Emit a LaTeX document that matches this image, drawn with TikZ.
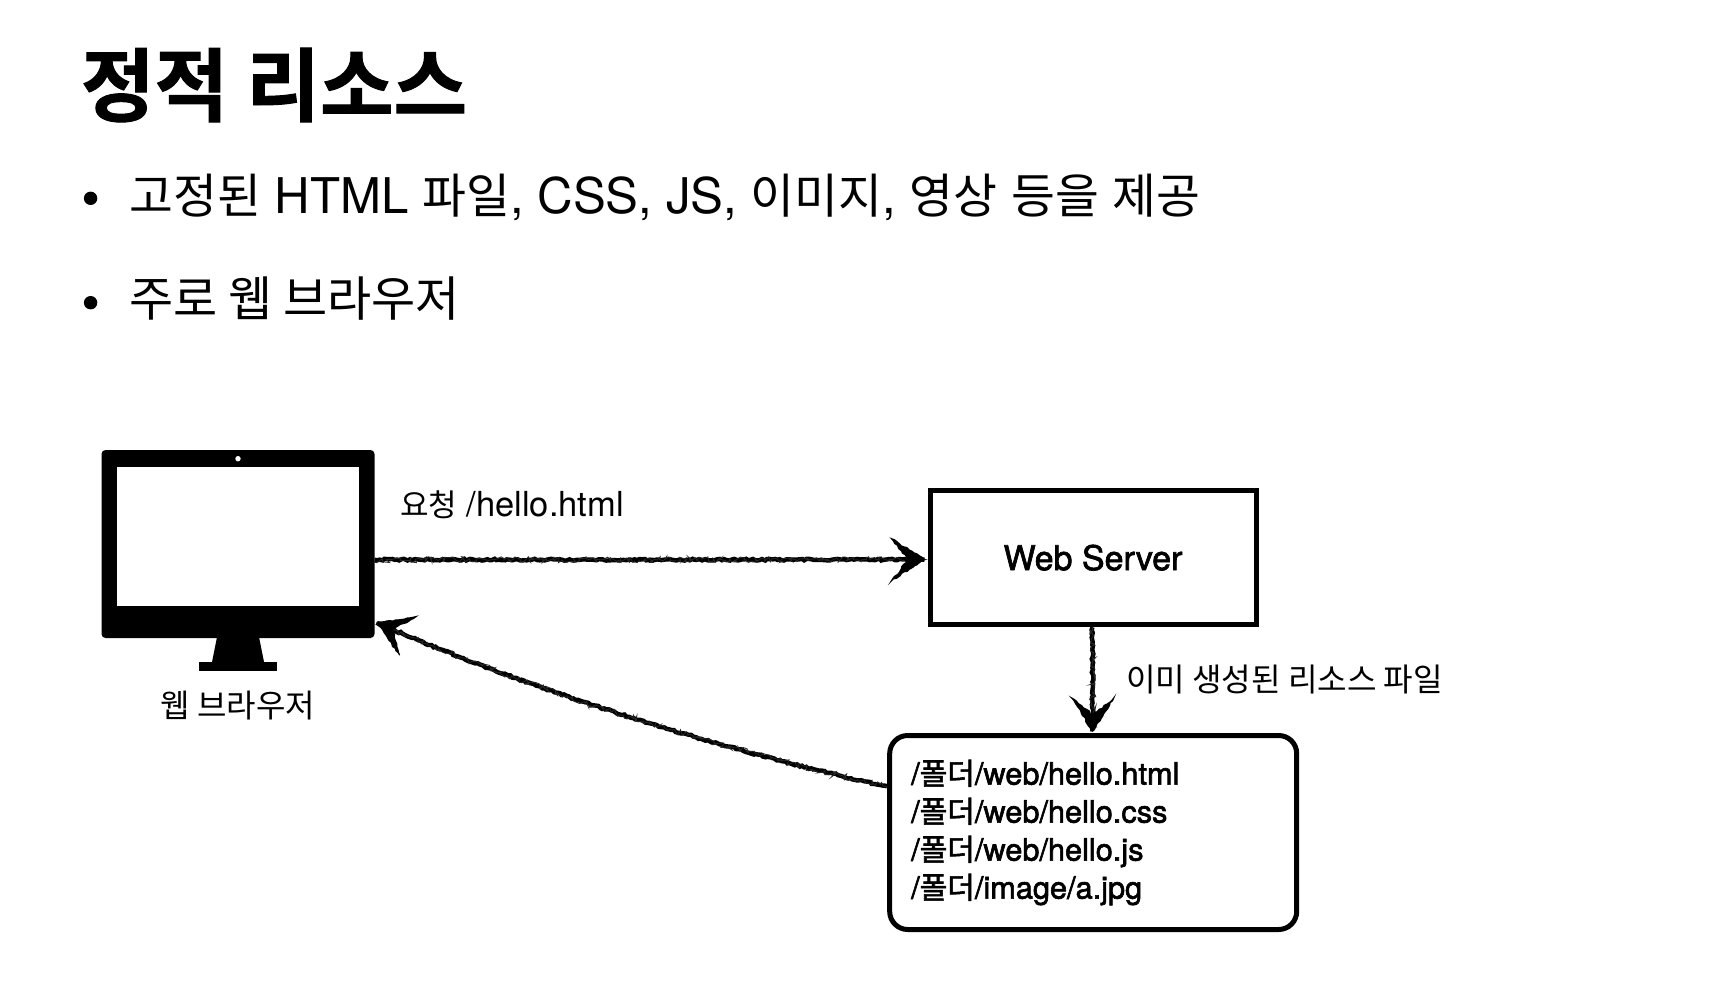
\documentclass[tikz,border=0pt]{standalone}
\usepackage{fontspec}
\usetikzlibrary{decorations.pathmorphing,calc}
\setmainfont{TeX Gyre Heros}
\newfontfamily\krfont{Noto Sans CJK KR}
\newfontfamily\krmed[FakeBold=2]{Noto Sans CJK KR}
\newfontfamily\krbold[BoldFont={*},FakeBold=1.2]{Noto Sans CJK KR Bold}
\newfontfamily\latmed[FakeBold=2]{TeX Gyre Heros}
\newcommand{\fs}[1]{\fontsize{#1}{#1}\selectfont}
\newcommand{\kr}[2]{{\krfont\fontsize{#1}{#1}\selectfont #2}}
\newcommand{\krm}[2]{{\krmed\fontsize{#1}{#1}\selectfont #2}}
\tikzset{
  txt/.style={inner sep=0pt,outer sep=0pt,anchor=base west,text=black},
  rough/.style={draw=black,line width=4.4pt,decorate,decoration={random steps,segment length=2.5pt,amplitude=0.9pt}},
  fuzz/.style={draw=black!85,line width=0.9pt,decorate,decoration={random steps,segment length=2pt,amplitude=3pt}},
  headfill/.style={fill=black,draw=black,line width=1.2pt,decorate,decoration={random steps,segment length=3pt,amplitude=1pt}},
  dot/.style={circle,fill=black,inner sep=0pt,minimum size=13.4pt},
  boxline/.style={draw=black,line width=5pt,fill=white}
}
\newcommand{\roughhead}[2]{%
  \begin{scope}[shift={#1},rotate=#2]
    \path[headfill] (0,0) -- (-33,21) -- (-16,0) -- (-33,-21) -- cycle;
  \end{scope}}
\begin{document}
\begin{tikzpicture}[x=1pt,y=-1pt]
\useasboundingbox (0,0) rectangle (1730,988);
\fill[white] (0,0) rectangle (1730,988);
\pgfmathsetseed{42}
% title
\node[txt] (title) at (81,115) {\krbold\fontsize{80}{80}\selectfont 정적 리소스};
% bullets
\node[dot] (b1) at (90.6,198.3) {};
\node[dot] (b2) at (90.6,302.7) {};
\node[txt] (l1) at (129.5,213) {\fs{49.2}\kr{47.7}{고정된} HTML \kr{47.7}{파일}, CSS, JS, \kr{47.7}{이미지}, \kr{47.7}{영상} \kr{47.7}{등을} \kr{47.7}{제공}};
\node[txt] (l2) at (129.5,316) {\kr{48}{주로 웹 브라우저}};
% monitor
\node[fill=black,rounded corners=4pt,minimum width=273pt,minimum height=188pt,inner sep=0pt,outer sep=0pt] (mon) at (238,544) {};
\node[fill=white,minimum width=242.7pt,minimum height=138.7pt,inner sep=0pt,outer sep=0pt] (scr) at (238,536.4) {};
\node[circle,fill=white,minimum size=5.4pt,inner sep=0pt] (cam) at (238,458.7) {};
\fill[black] (217,637) -- (259,637) -- (264,662) -- (212,662) -- cycle;
\fill[black] (198.5,661.7) rectangle (277.4,670.7);
\node[inner sep=0pt] (monlabel) at (238,705.5) {\kr{32}{웹 브라우저}};
% server & files
\node[boxline,minimum width=326pt,minimum height=134pt,inner sep=0pt] (server) at (1093,557.7) {\raisebox{-1pt}{\latmed\fs{34}Web Server}};
\node[boxline,rounded corners=18pt,text width=366pt,inner xsep=20.5pt,inner ysep=0pt,minimum height=194pt,align=left] (files) at (1093.2,832.5) {\hspace{1pt}\latmed\fontsize{30.7}{38}\selectfont
/\krm{30}{폴더}/web/hello.html\\
\hspace*{1pt}/\krm{30}{폴더}/web/hello.css\\
\hspace*{1pt}/\krm{30}{폴더}/web/hello.js\\
\hspace*{1pt}/\krm{30}{폴더}/image/a.jpg\par};
% labels
\node[txt] (reqlabel) at (400,516.7) {\fs{34.5}\kr{31}{요청} /hello.html};
\node[txt] (reslabel) at (1126,691) {\kr{32.1}{이미 생성된 리소스 파일}};
% connectors
\coordinate (reqtip) at ([xshift=-3pt,yshift=-2pt]server.west);
\coordinate (reqstart) at ([yshift=-2pt]mon.east |- server.west);
\coordinate (downstart) at ([xshift=-0.5pt]server.south);
\coordinate (downtip) at ([xshift=-0.5pt,yshift=2pt]files.north);
\coordinate (backtip) at ([xshift=3pt,yshift=-79pt]mon.east);
\coordinate (backstart) at ([yshift=46pt]files.west);
\path[rough] (reqstart) -- (reqtip);
\path[fuzz] (reqstart) -- (reqtip);
\roughhead{(reqtip)}{0}
\path[rough] (downstart) -- (downtip);
\path[fuzz] (downstart) -- (downtip);
\roughhead{(downtip)}{-90}
\path[rough] (backstart) .. controls (700,745) and (520,685) .. (backtip);
\path[fuzz] (backstart) .. controls (700,745) and (520,685) .. (backtip);
\roughhead{(backtip)}{157}
\end{tikzpicture}
\end{document}
